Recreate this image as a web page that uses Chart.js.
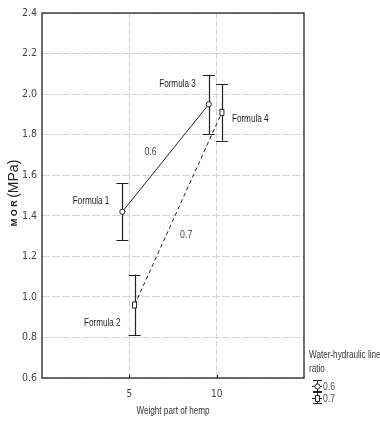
<!DOCTYPE html>
<html><head><meta charset="utf-8">
<script src="https://cdn.jsdelivr.net/npm/chart.js@4.4.1/dist/chart.umd.min.js"></script>
<style>html,body{margin:0;padding:0;background:#fff}#wrap{width:380px;height:421px;position:relative}</style>
</head><body><div id="wrap"><canvas id="c" width="380" height="421"></canvas></div>
<script>
const formulaNames = ['Formula 1', 'Formula 3', 'Formula 2', 'Formula 4'];
const seriesNames = ['0.6', '0.7'];
const hemp06 = [4.6, 9.55];
const mor06 = [1.42, 1.95];
const err06 = [0.14, 0.145];
const hemp07 = [5.3, 10.3];
const mor07 = [0.96, 1.91];
const err07 = [0.15, 0.14];
const xTickValues = [5, 10];
const yTickValues = [0.6, 0.8, 1.0, 1.2, 1.4, 1.6, 1.8, 2.0, 2.2, 2.4];

const FONT = '"Liberation Sans", Arial, sans-serif';
const TICKFONT = '"DejaVu Sans Condensed", "Liberation Sans", sans-serif';

const series = [
  {x: hemp06, y: mor06, e: err06, shape: 'circle', dash: [], names: [formulaNames[0], formulaNames[1]]},
  {x: hemp07, y: mor07, e: err07, shape: 'rect', dash: [4, 3], names: [formulaNames[2], formulaNames[3]]}
];

const nameOffsets = [
  [{dx: -13, dy: -11, a: 'right'}, {dx: -13, dy: -20, a: 'right'}],
  [{dx: -14, dy: 18, a: 'right'}, {dx: 10, dy: 7, a: 'left'}]
];
const seriesLabelOffsets = [{dx: -15, dy: -6}, {dx: 8, dy: 26}];

function narrowText(ctx, text, x, y, align, font, sx) {
  ctx.save();
  ctx.font = font;
  ctx.textBaseline = 'middle';
  ctx.textAlign = 'left';
  const w = ctx.measureText(text).width * sx;
  let left = x;
  if (align === 'right') left = x - w;
  else if (align === 'center') left = x - w / 2;
  ctx.translate(left, y);
  ctx.scale(sx, 1);
  ctx.fillText(text, 0, 0);
  ctx.restore();
}

function drawMarker(ctx, shape, px, py) {
  ctx.save();
  ctx.fillStyle = '#fff';
  ctx.strokeStyle = '#222';
  ctx.lineWidth = 1;
  ctx.setLineDash([]);
  ctx.beginPath();
  if (shape === 'circle') {
    ctx.arc(px, py, 2.6, 0, Math.PI * 2);
  } else {
    ctx.rect(px - 2, py - 3, 4, 6);
  }
  ctx.fill();
  ctx.stroke();
  ctx.restore();
}

const overlay = {
  id: 'overlay',
  afterDatasetsDraw(chart) {
    const ctx = chart.ctx;
    const xs = chart.scales.x, ys = chart.scales.y;
    const ca = chart.chartArea;
    ctx.save();
    ctx.strokeStyle = '#222';
    ctx.lineWidth = 1.3;
    ctx.setLineDash([]);
    ctx.strokeRect(ca.left, ca.top, ca.right - ca.left, ca.bottom - ca.top);
    ctx.lineWidth = 1;
    xTickValues.forEach(v => {
      const px = Math.round(xs.getPixelForValue(v)) + 0.5;
      ctx.beginPath(); ctx.moveTo(px, ca.bottom); ctx.lineTo(px, ca.bottom - 3); ctx.stroke();
    });
    series.forEach((s, si) => {
      s.x.forEach((xv, i) => {
        const px = xs.getPixelForValue(xv);
        const py = ys.getPixelForValue(s.y[i]);
        const top = ys.getPixelForValue(s.y[i] + s.e[i]);
        const bot = ys.getPixelForValue(s.y[i] - s.e[i]);
        ctx.strokeStyle = '#222';
        ctx.lineWidth = 1.2;
        ctx.beginPath();
        ctx.moveTo(Math.round(px) + 0.5, top); ctx.lineTo(Math.round(px) + 0.5, bot);
        ctx.moveTo(px - 6, Math.round(top) + 0.5); ctx.lineTo(px + 6, Math.round(top) + 0.5);
        ctx.moveTo(px - 6, Math.round(bot) + 0.5); ctx.lineTo(px + 6, Math.round(bot) + 0.5);
        ctx.stroke();
        drawMarker(ctx, s.shape, px, py);
        const o = nameOffsets[si][i];
        ctx.fillStyle = '#222';
        narrowText(ctx, s.names[i], px + o.dx, py + o.dy, o.a, '11px ' + FONT, 0.74);
      });
      const mx = (xs.getPixelForValue(s.x[0]) + xs.getPixelForValue(s.x[1])) / 2;
      const my = (ys.getPixelForValue(s.y[0]) + ys.getPixelForValue(s.y[1])) / 2;
      ctx.fillStyle = '#444';
      narrowText(ctx, seriesNames[si], mx + seriesLabelOffsets[si].dx, my + seriesLabelOffsets[si].dy, 'center', '11px ' + FONT, 0.8);
    });
    // y title
    ctx.save();
    ctx.translate(14, 193);
    ctx.rotate(-Math.PI / 2);
    ctx.textBaseline = 'middle';
    ctx.textAlign = 'left';
    ctx.fillStyle = '#222';
    ctx.font = 'bold 9px ' + FONT;
    const t1 = 'M O R ';
    const w1 = ctx.measureText(t1).width;
    ctx.font = '14px ' + FONT;
    const t2 = '(MPa)';
    const w2 = ctx.measureText(t2).width;
    let sx = -(w1 + w2) / 2;
    ctx.font = 'bold 9px ' + FONT;
    ctx.fillText(t1, sx, 1);
    ctx.font = '14px ' + FONT;
    ctx.fillText(t2, sx + w1, 0);
    ctx.restore();
    // x title
    ctx.fillStyle = '#333';
    narrowText(ctx, 'Weight part of hemp', 173, 411, 'center', '11px ' + FONT, 0.74);
    // legend
    narrowText(ctx, 'Water-hydraulic line', 309, 355, 'left', '11px ' + FONT, 0.74);
    narrowText(ctx, 'ratio', 309, 369, 'left', '11px ' + FONT, 0.74);
    series.forEach((s, si) => {
      const ly = 386 + si * 12;
      const lx = 317;
      ctx.strokeStyle = '#222';
      ctx.lineWidth = 1;
      ctx.setLineDash([]);
      ctx.beginPath();
      ctx.moveTo(lx + 0.5, ly - 5); ctx.lineTo(lx + 0.5, ly + 5);
      ctx.moveTo(lx - 4, ly - 5.5); ctx.lineTo(lx + 5, ly - 5.5);
      ctx.moveTo(lx - 4, ly + 5.5); ctx.lineTo(lx + 5, ly + 5.5);
      ctx.moveTo(lx - 5, ly + 0.5); ctx.lineTo(lx + 5, ly + 0.5);
      ctx.stroke();
      drawMarker(ctx, s.shape, lx + 0.5, ly + 0.5);
      ctx.fillStyle = '#444';
      narrowText(ctx, seriesNames[si], lx + 6, ly + 1, 'left', '11px ' + FONT, 0.78);
    });
    ctx.restore();
  }
};

new Chart(document.getElementById('c'), {
  type: 'scatter',
  data: {
    datasets: series.map((s, si) => ({
      label: seriesNames[si],
      data: s.x.map((xv, i) => ({x: xv, y: s.y[i]})),
      showLine: true,
      borderColor: '#222',
      borderWidth: 1,
      borderDash: s.dash,
      pointRadius: 0,
      fill: false
    }))
  },
  options: {
    responsive: false,
    animation: false,
    devicePixelRatio: 1,
    layout: {padding: {left: 0, right: 76, top: 13, bottom: 0}},
    plugins: {legend: {display: false}, tooltip: {enabled: false}},
    scales: {
      x: {
        type: 'linear', min: 0, max: 15,
        afterFit: s => { s.height = 43; },
        afterBuildTicks: s => { s.ticks = xTickValues.map(v => ({value: v})); },
        grid: {color: '#d4d4d4', drawTicks: false, tickLength: 0},
        border: {display: false, dash: [6, 2]},
        ticks: {color: '#444', font: {family: TICKFONT, size: 10}, padding: 10}
      },
      y: {
        type: 'linear', min: 0.6, max: 2.4,
        afterFit: s => { s.width = 42; },
        afterBuildTicks: s => { s.ticks = yTickValues.map(v => ({value: v})); },
        grid: {color: '#d4d4d4', drawTicks: false, tickLength: 0},
        border: {display: false, dash: [8, 2]},
        ticks: {color: '#444', font: {family: TICKFONT, size: 10.5}, padding: 5,
          callback: v => v.toFixed(1)}
      }
    }
  },
  plugins: [overlay]
});
</script>
</body></html>
